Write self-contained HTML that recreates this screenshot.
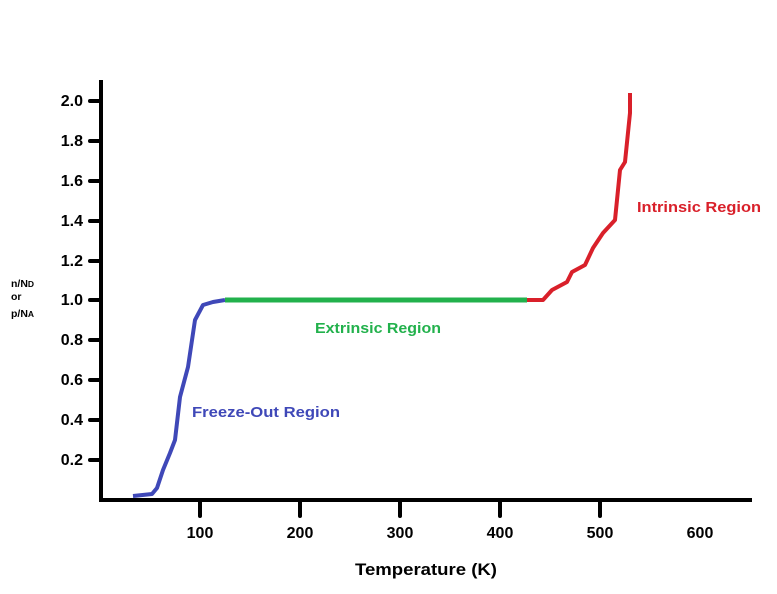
<!DOCTYPE html>
<html><head><style>
body{margin:0;background:#fff;}
svg{display:block;}
text{font-family:"Liberation Sans","DejaVu Sans",sans-serif;font-weight:bold;}
</style></head><body>
<svg width="777" height="594" viewBox="0 0 777 594">
<g stroke="#000" stroke-width="4" fill="none">
<line x1="101" y1="80" x2="101" y2="500"/>
<line x1="99" y1="500" x2="752" y2="500"/>
<g stroke-linecap="round">
<line x1="90" y1="101" x2="100" y2="101"/>
<line x1="90" y1="141" x2="100" y2="141"/>
<line x1="90" y1="181" x2="100" y2="181"/>
<line x1="90" y1="221" x2="100" y2="221"/>
<line x1="90" y1="261" x2="100" y2="261"/>
<line x1="90" y1="300" x2="100" y2="300"/>
<line x1="90" y1="340" x2="100" y2="340"/>
<line x1="90" y1="380" x2="100" y2="380"/>
<line x1="90" y1="420" x2="100" y2="420"/>
<line x1="90" y1="460" x2="100" y2="460"/>
<line x1="200" y1="502" x2="200" y2="516"/>
<line x1="300" y1="502" x2="300" y2="516"/>
<line x1="400" y1="502" x2="400" y2="516"/>
<line x1="500" y1="502" x2="500" y2="516"/>
<line x1="600" y1="502" x2="600" y2="516"/>
</g></g>
<g font-size="16" text-anchor="end" fill="#000">
<text x="83" y="106">2.0</text><text x="83" y="146">1.8</text><text x="83" y="186">1.6</text>
<text x="83" y="226">1.4</text><text x="83" y="266">1.2</text><text x="83" y="305">1.0</text>
<text x="83" y="345">0.8</text><text x="83" y="385">0.6</text><text x="83" y="425">0.4</text>
<text x="83" y="465">0.2</text>
</g>
<g font-size="16" text-anchor="middle" fill="#000">
<text x="200" y="538">100</text><text x="300" y="538">200</text><text x="400" y="538">300</text>
<text x="500" y="538">400</text><text x="600" y="538">500</text><text x="700" y="538">600</text>
</g>
<text x="355" y="575" font-size="17" textLength="142" lengthAdjust="spacingAndGlyphs">Temperature (K)</text>
<g font-size="10.5" fill="#000">
<text x="11" y="287">n/N<tspan font-size="8.5">D</tspan></text>
<text x="11" y="300">or</text>
<text x="11" y="317">p/N<tspan font-size="8.5">A</tspan></text>
</g>
<polyline fill="none" stroke="#3f48b8" stroke-width="4" stroke-linejoin="round" points="133,496 152,494 157,488 163,470 170,453 175,440 180,397 188,367 195,320 203,305 213,302 225,300"/>
<line x1="225" y1="300" x2="527" y2="300" stroke="#22b14c" stroke-width="5"/>
<polyline fill="none" stroke="#d9202a" stroke-width="4" stroke-linejoin="round" points="527,300 543,300 552,290 567,282 572,272 585,265 593,248 603,233 615,220 620,170 625,162 630,113 630,93"/>
<text x="192" y="417" font-size="15" fill="#3f48b8" textLength="148" lengthAdjust="spacingAndGlyphs">Freeze-Out Region</text>
<text x="315" y="333" font-size="15" fill="#22b14c" textLength="126" lengthAdjust="spacingAndGlyphs">Extrinsic Region</text>
<text x="637" y="212" font-size="15" fill="#d9202a" textLength="124" lengthAdjust="spacingAndGlyphs">Intrinsic Region</text>
</svg>
</body></html>
